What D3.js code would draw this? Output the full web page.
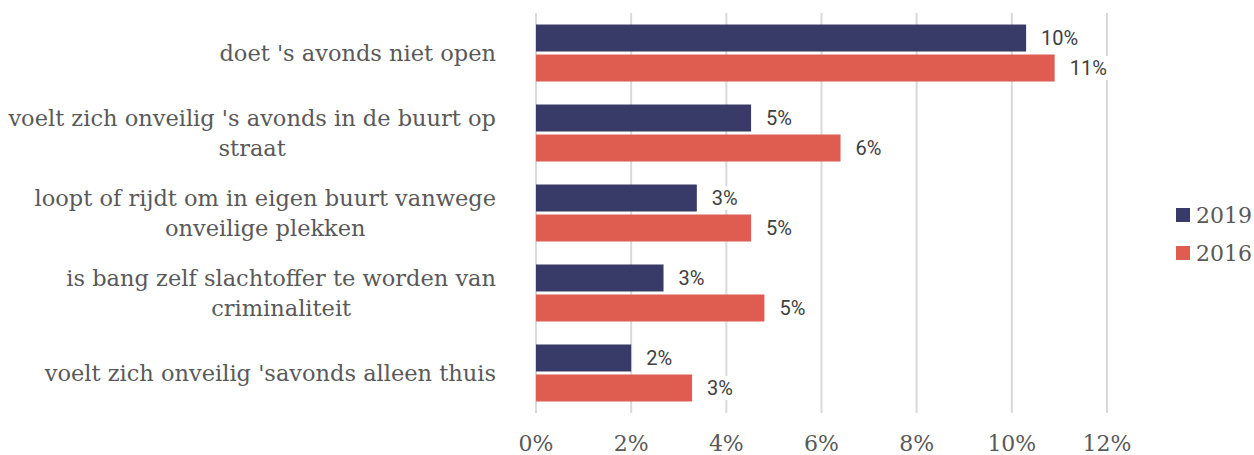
<!DOCTYPE html>
<html>
<head>
<meta charset="utf-8">
<script src="https://cdn.jsdelivr.net/npm/d3@7"></script>
<style>
body { margin: 0; background: #fff; }
</style>
</head>
<body>
<div id="chart"></div>
<script>
var categories = [
  "doet 's avonds niet open",
  "voelt zich onveilig 's avonds in de buurt op|straat",
  "loopt of rijdt om in eigen buurt vanwege|onveilige plekken",
  "is bang zelf slachtoffer te worden van|criminaliteit",
  "voelt zich onveilig 'savonds alleen thuis"
];
var series = ["2019", "2016"];
var values2019 = [10.3, 4.52, 3.38, 2.68, 2.0];
var values2016 = [10.9, 6.4, 4.52, 4.8, 3.28];
var xTicks = [0, 2, 4, 6, 8, 10, 12];

var width = 1254, height = 455;
var serif = "'DejaVu Serif', serif";
var sans = "Roboto, sans-serif";

var svg = d3.select("#chart").append("svg")
  .attr("width", width).attr("height", height);

var x = d3.scaleLinear().domain([0, 12]).range([536, 1107]);
var y = d3.scaleBand().domain(categories).range([13, 413])
  .paddingInner(0.2875).paddingOuter(0.144);
var ySub = d3.scaleBand().domain(series).range([0, y.bandwidth()]).paddingInner(0.1);
var color = d3.scaleOrdinal().domain(series).range(["#383B68", "#DE5C50"]);

// gridlines
svg.append("g").selectAll("line").data(xTicks).enter().append("line")
  .attr("x1", function(d) { return x(d); }).attr("x2", function(d) { return x(d); })
  .attr("y1", 13).attr("y2", 413)
  .attr("stroke", "#d9d9d9").attr("stroke-width", 2);

// x tick labels
svg.append("g").selectAll("text").data(xTicks).enter().append("text")
  .attr("x", function(d) { return x(d); }).attr("y", 451)
  .attr("text-anchor", "middle")
  .attr("font-family", serif).attr("font-size", 22).attr("fill", "#595959")
  .text(function(d) { return d + "%"; });

var rows = categories.map(function(c, i) {
  return { cat: c, vals: [{ key: "2019", value: values2019[i] }, { key: "2016", value: values2016[i] }] };
});

var groups = svg.append("g").selectAll("g").data(rows).enter().append("g")
  .attr("transform", function(d) { return "translate(0," + y(d.cat) + ")"; });

groups.selectAll("rect.bar").data(function(d) { return d.vals; }).enter().append("rect")
  .attr("class", "bar")
  .attr("x", x(0))
  .attr("y", function(d) { return ySub(d.key); })
  .attr("width", function(d) { return x(d.value) - x(0); })
  .attr("height", ySub.bandwidth())
  .attr("fill", function(d) { return color(d.key); });

// data labels with white boxes
var lab = groups.selectAll("g.lab").data(function(d) { return d.vals; }).enter().append("g")
  .attr("class", "lab")
  .attr("transform", function(d) {
    return "translate(" + (x(d.value) + 15) + "," + (ySub(d.key) + ySub.bandwidth() / 2) + ")";
  });
lab.append("rect").attr("fill", "#fff");
lab.append("text")
  .attr("dy", "0.36em")
  .attr("font-family", sans).attr("font-size", 20).attr("fill", "#404040")
  .text(function(d) { return Math.round(d.value) + "%"; });
lab.each(function() {
  var g = d3.select(this);
  var w = g.select("text").node().getComputedTextLength();
  g.select("rect").attr("x", -4).attr("y", -12).attr("width", w + 8).attr("height", 24);
});

// category labels
var catG = svg.append("g").selectAll("g").data(categories).enter().append("g");
catG.each(function(c) {
  var g = d3.select(this);
  var lines = c.split("|");
  var mid = y(c) + y.bandwidth() / 2;
  var lh = 30;
  var texts = lines.map(function(l, i) {
    return g.append("text")
      .attr("y", mid + (i - (lines.length - 1) / 2) * lh)
      .attr("dy", "0.35em")
      .attr("text-anchor", "middle")
      .attr("font-family", serif).attr("font-size", 22.5).attr("fill", "#595959")
      .text(l);
  });
  var maxW = d3.max(texts, function(t) { return t.node().getComputedTextLength(); });
  texts.forEach(function(t) { t.attr("x", 496 - maxW / 2); });
});

// legend
var leg = svg.append("g").selectAll("g").data(series).enter().append("g")
  .attr("transform", function(d, i) { return "translate(1176," + (208 + i * 38) + ")"; });
leg.append("rect").attr("width", 14).attr("height", 14)
  .attr("fill", function(d) { return color(d); });
leg.append("text").attr("x", 20).attr("y", 7).attr("dy", "0.36em")
  .attr("font-family", serif).attr("font-size", 22).attr("fill", "#595959")
  .text(function(d) { return d; });
</script>
</body>
</html>
